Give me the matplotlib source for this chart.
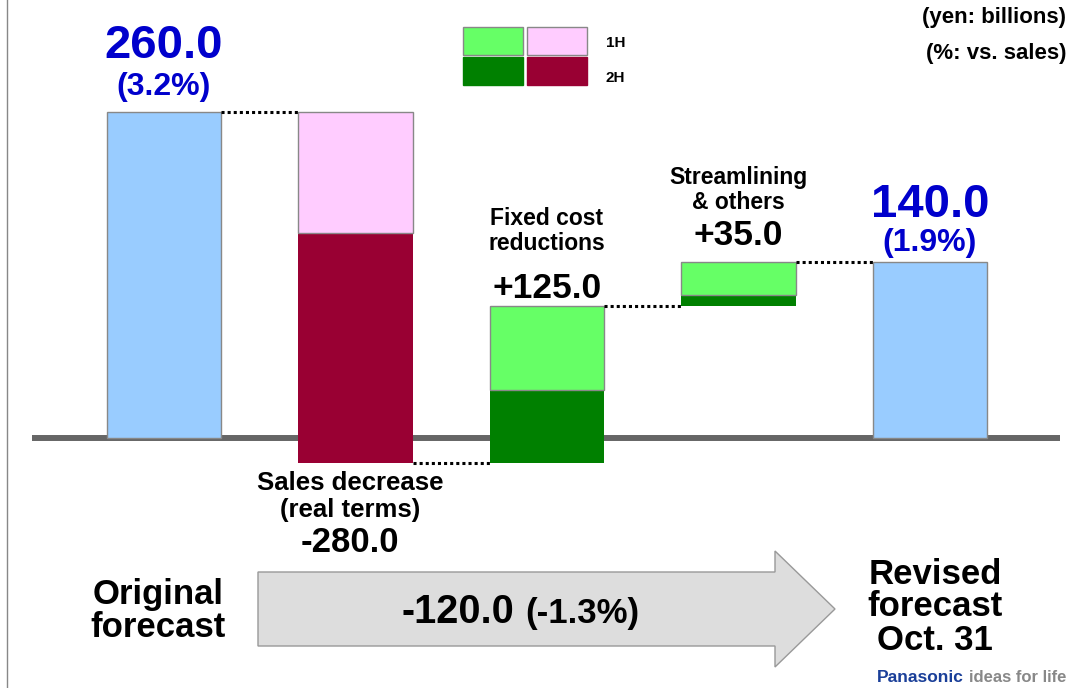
import matplotlib.pyplot as plt
from matplotlib.patches import Polygon, Rectangle

plt.rcParams['font.family'] = ['Liberation Sans', 'DejaVu Sans']
plt.rcParams['font.weight'] = 'bold'

W, H = 1073, 688

# values (yen: billions)
start_value = 260.0
start_pct = '(3.2%)'
end_value = 140.0
end_pct = '(1.9%)'
step_names = ['Sales decrease\n(real terms)', 'Fixed cost\nreductions', 'Streamlining\n& others']
step_1h = [-97.0, 67.0, 26.0]
step_2h = [-183.0, 58.0, 9.0]
change_total = '-120.0'
change_pct = '(-1.3%)'

# colours
total_color = '#99CCFF'
colors_1h = ['#FFCCFF', '#66FF66', '#66FF66']
colors_2h = ['#990033', '#008000', '#008000']
value_blue = '#0000CC'


def fpos(x, y):
    # pixel position -> figure fraction
    return x / W, 1 - y / H


fig = plt.figure(figsize=(W / 100, H / 100), dpi=100)
ax = fig.add_axes([0, 0, 1, 1])
ax.axis('off')
ax.set_xlim(-0.8564, 4.7467)
ax.set_ylim(-199.2, 349.0)

bw = 0.6
ax.plot([-0.69, 4.68], [0, 0], color='#666666', lw=4.3, solid_capstyle='butt', zorder=1)

# start bar
ax.bar(0, start_value, width=bw, color=total_color, edgecolor='#888888', lw=1, zorder=2)
ax.annotate(f'{start_value:.1f}', xy=(0, start_value), xytext=(0, 47), textcoords='offset points',
            ha='center', va='center', fontsize=34, color=value_blue)
ax.annotate(start_pct, xy=(0, start_value), xytext=(0, 18), textcoords='offset points',
            ha='center', va='center', fontsize=23, color=value_blue)

level = start_value
for i, (d1, d2) in enumerate(zip(step_1h, step_2h)):
    x = i + 1
    new = level + d1 + d2
    low = min(level, new)
    ax.bar(x, abs(d2), bottom=low, width=bw, color=colors_2h[i], lw=0, zorder=2)
    ax.bar(x, abs(d1), bottom=low + abs(d2), width=bw, color=colors_1h[i],
           edgecolor='#888888', lw=1, zorder=2)
    ax.plot([x - 1 + bw / 2, x - bw / 2], [level, level], color='black', lw=2.2,
            ls=(0, (1, 1)), zorder=3)
    total = d1 + d2
    if total < 0:
        ax.annotate(step_names[i], xy=(x, low), xytext=(-4, -24), textcoords='offset points',
                    ha='center', va='center', fontsize=18.5, linespacing=1.2)
        ax.annotate(f'{total:.1f}', xy=(x, low), xytext=(-4, -57), textcoords='offset points',
                    ha='center', va='center', fontsize=25)
    else:
        ax.annotate(step_names[i], xy=(x, new), xytext=(0, 54 if i == 1 else 52), textcoords='offset points',
                    ha='center', va='center', fontsize=16.5, linespacing=1.12)
        ax.annotate(f'+{total:.1f}', xy=(x, new), xytext=(0, 13 if i == 1 else 19), textcoords='offset points',
                    ha='center', va='center', fontsize=25.5)
    level = new

# end bar
ax.plot([3 + bw / 2, 4 - bw / 2], [level, level], color='black', lw=2.2, ls=(0, (1, 1)), zorder=3)
ax.bar(4, end_value, width=bw, color=total_color, edgecolor='#888888', lw=1, zorder=2)
ax.annotate(f'{end_value:.1f}', xy=(4, end_value), xytext=(0, 41), textcoords='offset points',
            ha='center', va='center', fontsize=34, color=value_blue)
ax.annotate(end_pct, xy=(4, end_value), xytext=(0, 14), textcoords='offset points',
            ha='center', va='center', fontsize=23, color=value_blue)

# legend
for (x, y), c, ec in [((463, 27), colors_1h[1], '#888888'), ((527, 27), colors_1h[0], '#888888'),
                      ((463, 57), colors_2h[1], colors_2h[1]), ((527, 57), colors_2h[0], colors_2h[0])]:
    fig.patches.append(Rectangle(fpos(x, y + 28), 60 / W, 28 / H, transform=fig.transFigure,
                                 facecolor=c, edgecolor=ec, lw=1))
fig.text(*fpos(606, 43), '1H', fontsize=11, va='center')
fig.text(*fpos(606, 78), '2H', fontsize=11, va='center')

# units
fig.text(*fpos(1066, 18), '(yen: billions)', fontsize=16, ha='right', va='center')
fig.text(*fpos(1066, 54), '(%: vs. sales)', fontsize=16, ha='right', va='center')

# big arrow
pts = [(258, 572), (775, 572), (775, 551), (835, 609), (775, 667), (775, 646), (258, 646)]
fig.patches.append(Polygon([fpos(px, py) for px, py in pts], closed=True, transform=fig.transFigure,
                           facecolor='#DDDDDD', edgecolor='#999999', lw=1))
fig.text(*fpos(514, 623), change_total, fontsize=28.5, ha='right', va='baseline')
fig.text(*fpos(525, 623), change_pct, fontsize=25, ha='left', va='baseline')

fig.text(*fpos(158, 611), 'Original\nforecast', fontsize=25, ha='center', va='center', linespacing=1.0)
fig.text(*fpos(935, 607), 'Revised\nforecast\nOct. 31', fontsize=25, ha='center', va='center', linespacing=1.0)

# footer
fig.text(*fpos(877, 678), 'Panasonic', fontsize=12.5, color='#1A3F99', va='center')
fig.text(*fpos(1066, 678), 'ideas for life', fontsize=12, color='#888888', ha='right', va='center')

# left border
fig.add_artist(plt.Line2D([7 / W, 7 / W], [0, 1], color='#888888', lw=1))

fig.savefig('out.png', dpi=100)
